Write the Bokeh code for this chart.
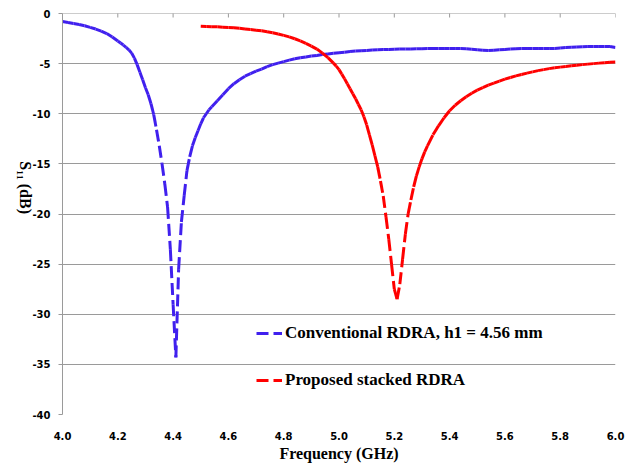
import math
import numpy as np
from bokeh.plotting import figure
from bokeh.models import (Range1d, FixedTicker, Legend, LegendItem, Label, Span)
from bokeh.embed import file_html
from bokeh.resources import INLINE

# ---------------- data ----------------
conv_freq = [4.00, 4.02, 4.04, 4.06, 4.08, 4.10, 4.12, 4.14, 4.16, 4.18, 4.20, 4.21, 4.22, 4.23,
             4.24, 4.25, 4.26, 4.27, 4.28, 4.29, 4.30, 4.31, 4.32, 4.33, 4.34, 4.35, 4.36, 4.37,
             4.38, 4.39, 4.40, 4.41, 4.42, 4.43, 4.44, 4.45, 4.46, 4.47, 4.48, 4.49, 4.50, 4.51,
             4.52, 4.53, 4.54, 4.56, 4.58, 4.60, 4.62, 4.64, 4.66, 4.68, 4.70, 4.72, 4.74, 4.76,
             4.78, 4.80, 4.82, 4.84, 4.86, 4.88, 4.90, 4.92, 4.94, 4.96, 4.98, 5.00, 5.02, 5.04,
             5.06, 5.08, 5.10, 5.12, 5.14, 5.16, 5.18, 5.20, 5.22, 5.24, 5.26, 5.28, 5.30,
             5.32, 5.34, 5.36, 5.38, 5.40, 5.42, 5.44, 5.46, 5.48, 5.50, 5.52, 5.54, 5.56,
             5.58, 5.60, 5.62, 5.64, 5.66, 5.68, 5.70, 5.72, 5.74, 5.76, 5.78, 5.80, 5.82,
             5.84, 5.86, 5.88, 5.90, 5.92, 5.94, 5.96, 5.98, 6.00]
conv_s11 = [-0.80, -0.90, -1.00, -1.10, -1.22, -1.38, -1.55, -1.75, -2.00, -2.35, -2.75, -2.95, -3.15, -3.38,
            -3.62, -3.95, -4.45, -5.10, -5.85, -6.60, -7.40, -8.10, -9.00, -10.10, -11.60, -13.20, -15.00, -17.00,
            -19.30, -23.50, -29.00, -34.30, -25.50, -20.80, -18.20, -15.70, -14.30, -13.20, -12.40, -11.70, -11.00, -10.40,
            -10.00, -9.60, -9.30, -8.70, -8.10, -7.50, -7.00, -6.60, -6.25, -6.00, -5.75, -5.55, -5.30, -5.10,
            -4.95, -4.80, -4.65, -4.52, -4.42, -4.33, -4.25, -4.18, -4.10, -4.03, -3.97, -3.92, -3.87, -3.80,
            -3.75, -3.72, -3.68, -3.65, -3.62, -3.60, -3.58, -3.56, -3.55, -3.54, -3.53, -3.52, -3.51,
            -3.50, -3.50, -3.50, -3.50, -3.50, -3.50, -3.50, -3.52, -3.56, -3.62, -3.66, -3.68, -3.66,
            -3.62, -3.58, -3.55, -3.52, -3.50, -3.50, -3.50, -3.50, -3.50, -3.50, -3.48, -3.45, -3.40,
            -3.37, -3.35, -3.32, -3.30, -3.28, -3.28, -3.28, -3.30, -3.40]

prop_freq = [4.50, 4.52, 4.54, 4.56, 4.58, 4.60, 4.62, 4.64, 4.66, 4.68, 4.70, 4.72, 4.74,
             4.76, 4.78, 4.80, 4.82, 4.84, 4.86, 4.88, 4.90, 4.92, 4.94, 4.96, 4.98, 4.99, 5.00,
             5.01, 5.02, 5.03, 5.04, 5.05, 5.06, 5.07, 5.08, 5.09, 5.10, 5.11, 5.12, 5.13, 5.14,
             5.15, 5.16, 5.17, 5.18, 5.19, 5.20, 5.21, 5.22, 5.23, 5.24, 5.25, 5.26, 5.27, 5.28,
             5.29, 5.30, 5.31, 5.32, 5.34, 5.36, 5.38, 5.40, 5.42,
             5.44, 5.46, 5.48, 5.50, 5.52, 5.54, 5.56, 5.58, 5.60, 5.62, 5.64, 5.66, 5.68,
             5.70, 5.72, 5.74, 5.76, 5.78, 5.80, 5.82, 5.84, 5.86, 5.88, 5.90, 5.92, 5.94,
             5.96, 5.98, 6.00]
prop_s11 = [-1.27, -1.29, -1.31, -1.33, -1.36, -1.39, -1.43, -1.48, -1.54, -1.60, -1.66, -1.72, -1.82,
            -1.92, -2.04, -2.18, -2.33, -2.52, -2.73, -2.98, -3.25, -3.55, -3.95, -4.40, -4.95, -5.25, -5.60,
            -6.05, -6.50, -7.00, -7.50, -8.00, -8.50, -9.05, -9.60, -10.30, -11.10, -12.10, -13.10, -14.20, -15.30,
            -16.70, -18.20, -20.30, -22.50, -25.00, -27.50, -28.50, -27.00, -24.50, -22.00, -20.00, -18.60, -17.30, -16.20,
            -15.30, -14.50, -13.80, -13.20, -12.10, -11.20, -10.40, -9.70, -9.15,
            -8.70, -8.30, -7.95, -7.65, -7.40, -7.15, -6.95, -6.75, -6.55, -6.38, -6.22, -6.08, -5.95,
            -5.82, -5.70, -5.60, -5.50, -5.42, -5.35, -5.28, -5.22, -5.16, -5.10, -5.05, -5.00, -4.95,
            -4.91, -4.87, -4.85]

x_ticks = [4.0, 4.2, 4.4, 4.6, 4.8, 5.0, 5.2, 5.4, 5.6, 5.8, 6.0]
x_tick_labels = ["4.0", "4.2", "4.4", "4.6", "4.8", "5.0", "5.2", "5.4", "5.6", "5.8", "6.0"]
y_ticks = [-40, -35, -30, -25, -20, -15, -10, -5, 0]
y_tick_labels = ["-40", "-35", "-30", "-25", "-20", "-15", "-10", "-5", "0"]

series_names = ["Conventional RDRA, h1 = 4.56 mm", "Proposed stacked RDRA"]
series_colors = ["#4020ee", "#ff0000"]

SERIF = "Liberation Serif"
TICKFONT = "DejaVu Sans"
GRID = "#9a9a9a"

p = figure(width=635, height=464, output_backend="svg", toolbar_location=None,
           x_range=Range1d(4.0, 6.0), y_range=Range1d(-40, 0),
           min_border_left=62, min_border_right=20, min_border_top=13, min_border_bottom=50)
p.outline_line_color = None
p.background_fill_color = "white"
p.border_fill_color = "white"

# grid
p.xgrid.grid_line_color = None
p.ygrid.ticker = FixedTicker(ticks=y_ticks)
p.ygrid.grid_line_color = GRID
p.ygrid.grid_line_width = 1
p.add_layout(Span(location=0, dimension="width", line_color=GRID, line_width=1))

# bottom axis: labels only
xa = p.xaxis[0]
xa.ticker = FixedTicker(ticks=x_ticks)
xa.major_label_overrides = {t: s for t, s in zip(x_ticks, x_tick_labels)}
xa.axis_line_color = None
xa.major_tick_line_color = None
xa.minor_tick_line_color = None
xa.major_label_standoff = 11
xa.major_label_text_font = TICKFONT
xa.major_label_text_font_style = "bold"
xa.major_label_text_font_size = "10px"
xa.major_label_text_color = "black"
xa.axis_label = "Frequency (GHz)"
xa.axis_label_text_font = SERIF
xa.axis_label_text_font_style = "bold"
xa.axis_label_text_font_size = "16px"
xa.axis_label_text_color = "black"
xa.axis_label_standoff = 2

# left axis
ya = p.yaxis[0]
ya.ticker = FixedTicker(ticks=y_ticks)
ya.major_label_overrides = {t: s for t, s in zip(y_ticks, y_tick_labels)}
ya.axis_line_color = GRID
ya.major_tick_line_color = GRID
ya.major_tick_in = 0
ya.major_tick_out = 4
ya.minor_tick_line_color = None
ya.major_label_standoff = 8
ya.major_label_text_font = TICKFONT
ya.major_label_text_font_style = "bold"
ya.major_label_text_font_size = "10px"
ya.major_label_text_color = "black"

# y axis title, reading top to bottom
ylabel_text = "S\u2081\u2081 (dB)"
if "axis_label_orientation" in ya.properties():
    ya.axis_label = ylabel_text
    ya.axis_label_orientation = -math.pi / 2
    ya.axis_label_text_font = SERIF
    ya.axis_label_text_font_style = "bold"
    ya.axis_label_text_font_size = "16px"
    ya.axis_label_text_color = "black"
    ya.axis_label_standoff = 4
else:
    p.add_layout(Label(x=20, x_units="screen", y=-21.8, text=ylabel_text, angle=-math.pi / 2,
                       text_font=SERIF, text_font_style="bold", text_font_size="16px",
                       text_align="center", text_baseline="middle", text_color="black"))

# top axis ticks (inside) at 0 dB
p.scatter(x=x_ticks, y=[0] * len(x_ticks), marker="dash", angle=math.pi / 2, size=8,
          line_color=GRID, line_width=1)

# curves drawn as individual dashed segments (dash restarts at every data step)
renderers = []
for fx, fy, col in [(conv_freq, conv_s11, series_colors[0]), (prop_freq, prop_s11, series_colors[1])]:
    fx = np.asarray(fx); fy = np.asarray(fy)
    r = p.segment(x0=fx[:-1], y0=fy[:-1], x1=fx[1:], y1=fy[1:], line_color=col,
                  line_width=3, line_dash="12 5")
    renderers.append(r)

legend = Legend(items=[LegendItem(label=series_names[i], renderers=[renderers[i]]) for i in range(2)],
                location=(194, 24), orientation="vertical",
                background_fill_alpha=0, border_line_color=None,
                padding=0, margin=0, spacing=27, glyph_width=26, glyph_height=18,
                label_height=18, label_standoff=3,
                label_text_font=SERIF, label_text_font_style="bold",
                label_text_font_size="17px", label_text_color="black")
p.add_layout(legend, "center")

open("out.html", "w").write(file_html(p, INLINE))
